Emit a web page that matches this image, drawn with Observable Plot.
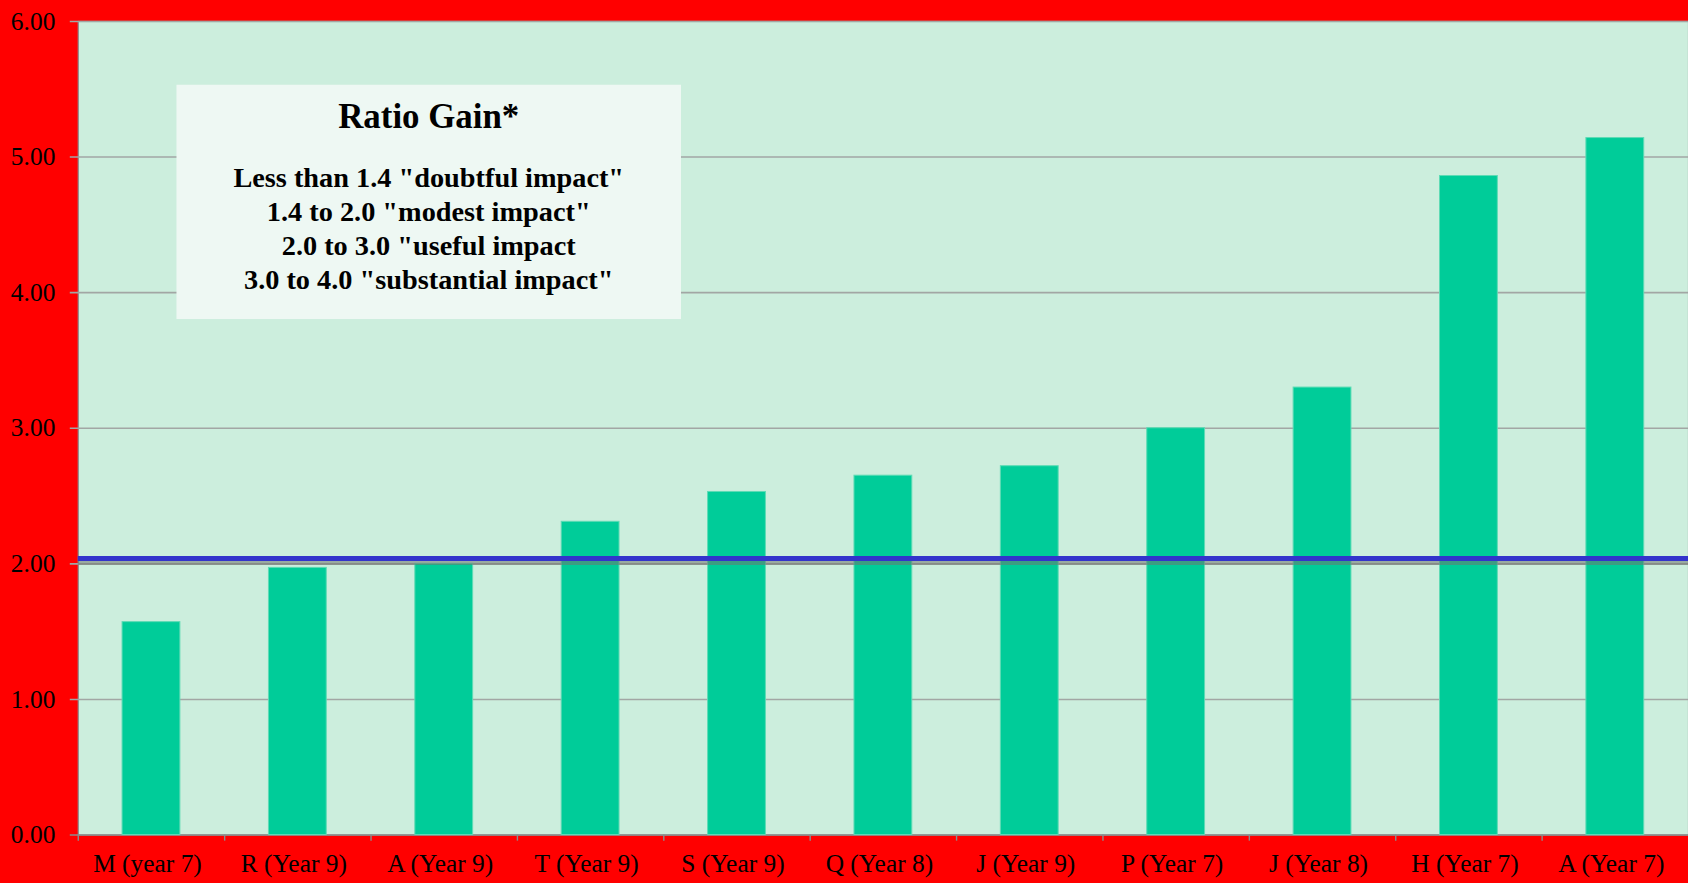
<!DOCTYPE html>
<html><head><meta charset="utf-8">
<script src="https://cdn.jsdelivr.net/npm/d3@7"></script>
<script src="https://cdn.jsdelivr.net/npm/@observablehq/plot@0.6"></script>
<style>
html,body{margin:0;padding:0;background:#ff0000;overflow:hidden;width:1688px;height:883px}
#chart svg{display:block}
</style>
</head><body><div id="chart"></div>
<script>
const categories = ["M (year 7)","R (Year 9)","A (Year 9)","T (Year 9)","S (Year 9)","Q (Year 8)","J (Year 9)","P (Year 7)","J (Year 8)","H (Year 7)","A (Year 7)"];
const values = [1.57, 1.97, 2.00, 2.31, 2.53, 2.65, 2.72, 3.00, 3.30, 4.86, 5.14];
const yTicks = [0, 1, 2, 3, 4, 5, 6];
const gridValues = [1, 2, 3, 4, 5, 6];
const benchmark = [2.04];
const legendTitle = "Ratio Gain*";
const legendLines = [
  "Less than 1.4 \"doubtful impact\"",
  "1.4 to 2.0 \"modest impact\"",
  "2.0 to 3.0 \"useful impact",
  "3.0 to 4.0 \"substantial impact\""
];

const data = categories.map((c, i) => ({category: c, value: values[i]}));

const W = 1693, H = 883, mL = 78, mR = 0, mT = 21, mB = 46;
const step = (W - mL - mR) / categories.length;
const font = "'Liberation Serif', 'Times New Roman', serif";

const svg = Plot.plot({
  width: W, height: H,
  marginLeft: mL, marginRight: mR, marginTop: mT, marginBottom: mB,
  style: {background: "#ff0000", color: "black", fontFamily: font, fontSize: "25px", overflow: "visible"},
  x: {domain: categories, paddingInner: 0.605, paddingOuter: 0.3025, round: false, axis: null},
  y: {domain: [0, 6], axis: null},
  marks: [
    Plot.frame({fill: "#cceedd", stroke: "#8c8c8c", strokeWidth: 1.2}),
    Plot.ruleY(gridValues, {stroke: "#a2a6a4", strokeWidth: 1.6, insetLeft: -8}),
    Plot.ruleY([0], {stroke: "#8c8c8c", strokeWidth: 1.6, insetLeft: -8}),
    Plot.ruleX(categories, {x: d => d, dx: -step / 2, y1: 0, y2: -0.045, stroke: "#8c8c8c", strokeWidth: 1.4}),
    Plot.barY(data, {x: "category", y: "value", fill: "#00cc99", stroke: "#5edbb5", strokeWidth: 1}),
    Plot.ruleY(benchmark, {stroke: "#6f7570", strokeOpacity: 0.55, strokeWidth: 4, dy: 4.5}),
    Plot.ruleY(benchmark, {stroke: "#3333cc", strokeWidth: 5}),
    Plot.axisY(yTicks, {tickFormat: d3.format(".2f"), tickSize: 0, tickPadding: 23, fontSize: 25.5, fill: "black", label: null}),
    Plot.axisX({tickSize: 0, tickPadding: 19, fontSize: 25.5, dx: -4, fill: "black", label: null})
  ]
});
document.getElementById("chart").appendChild(svg);

// legend annotation box
const g = d3.select(svg).append("g");
g.append("rect").attr("x", 177).attr("y", 85).attr("width", 506).attr("height", 235).attr("fill", "#eef8f3");
g.append("text").attr("x", 430).attr("y", 128).attr("text-anchor", "middle")
  .attr("font-family", font).attr("font-weight", "bold").attr("font-size", 35).attr("fill", "black").text(legendTitle);
legendLines.forEach((t, i) => {
  g.append("text").attr("x", 430).attr("y", 188 + i * 34).attr("text-anchor", "middle")
    .attr("font-family", font).attr("font-weight", "bold").attr("font-size", 28.4).attr("fill", "black").text(t);
});
</script>
</body></html>
